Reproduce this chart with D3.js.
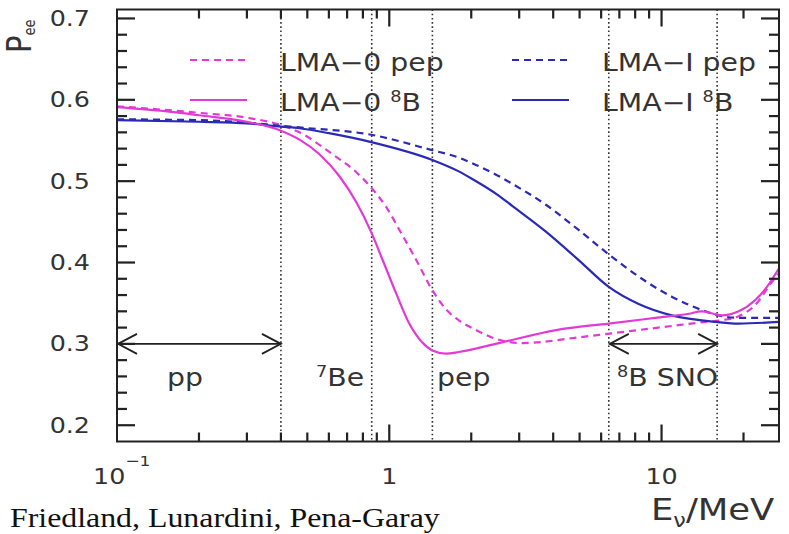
<!DOCTYPE html>
<html>
<head>
<meta charset="utf-8">
<script src="https://cdn.jsdelivr.net/npm/d3@7"></script>
<style>
  body { margin: 0; background: #fff; }
  svg { display: block; }
  .sans { font-family: "DejaVu Sans", sans-serif; fill: #333; }
  .serif { font-family: "Liberation Serif", "Times New Roman", serif; fill: #111; }
</style>
</head>
<body>
<div id="chart"></div>
<script>
// -> curves: [E in MeV, Pee]
var lma0B8 = [[0.1,0.591],[0.15,0.586],[0.2,0.581],[0.3,0.573],[0.4,0.562],[0.468,0.551],[0.554,0.533],
  [0.656,0.506],[0.757,0.474],[0.859,0.437],[0.943,0.404],[1.06,0.362],[1.18,0.326],[1.32,0.302],
  [1.44,0.292],[1.62,0.288],[1.8,0.290],[2.53,0.301],[4.1,0.317],[6.4,0.325],[9.5,0.332],[12.6,0.337],
  [14,0.340],[15.5,0.337],[16.6,0.335],[19.2,0.340],[22.1,0.354],[24,0.367],[27,0.393]];
var lma0pep = [[0.1,0.592],[0.2,0.584],[0.3,0.578],[0.4,0.569],[0.468,0.560],[0.619,0.533],[0.757,0.511],
  [0.859,0.492],[0.975,0.468],[1.09,0.440],[1.256,0.403],[1.44,0.366],[1.62,0.342],[1.8,0.329],[2.08,0.317],
  [2.53,0.305],[3.07,0.301],[4.96,0.308],[6.56,0.313],[8.24,0.317],[10.9,0.322],[14.5,0.327],[16.6,0.329],
  [19.2,0.334],[22.1,0.348],[25.3,0.375],[27,0.387]];
var lma1B8 = [[0.1,0.575],[0.2,0.573],[0.3,0.571],[0.4,0.567],[0.468,0.565],[0.6,0.559],[0.859,0.548],
  [1.44,0.526],[1.8,0.512],[2.01,0.503],[2.53,0.482],[2.82,0.470],[3.76,0.438],[4.96,0.403],[6.4,0.370],
  [8.24,0.349],[10.9,0.335],[15.9,0.327],[19.2,0.325],[27,0.327]];
var lma1pep = [[0.1,0.576],[0.2,0.575],[0.3,0.572],[0.4,0.568],[0.468,0.566],[0.859,0.557],[1.44,0.538],
  [1.8,0.529],[2.08,0.520],[2.53,0.506],[2.82,0.497],[3.76,0.471],[4.96,0.440],[6.4,0.410],[8.74,0.377],
  [10.9,0.358],[14.5,0.340],[16.2,0.335],[19.2,0.332],[27,0.332]];

// -> thresholds (dotted lines) and the two energy windows
var thresholds = [0.4, 0.862, 1.44, 6.4, 16];
var windows = [[0.1, 0.4], [6.4, 16]];
var arrowLevel = 0.3;

// -> ticks
var yMajor = [0.2, 0.3, 0.4, 0.5, 0.6, 0.7];
var yMinor = [0.22,0.24,0.26,0.28,0.32,0.34,0.36,0.38,0.42,0.44,0.46,0.48,0.52,0.54,0.56,0.58,0.62,0.64,0.66,0.68];
var xMajor = [1, 10];
var xMinor = [0.2,0.3,0.4,0.5,0.6,0.7,0.8,0.9,2,3,4,5,6,7,8,9,20];

var magenta = "#e23ad6", blue = "#2a2ab6";
var sx = 1.18; // the picture is stretched sideways, so is its text

var width = 789, height = 534,
    margin = {top: 9.5, right: 10, bottom: 92.5, left: 117};

var x = d3.scaleLog().domain([0.1, 27]).range([margin.left, width - margin.right]),
    y = d3.scaleLinear().domain([0.18, 0.711]).range([height - margin.bottom, margin.top]);

var svg = d3.select("#chart").append("svg")
    .attr("width", width)
    .attr("height", height);

svg.append("defs").append("marker")
    .attr("id", "head")
    .attr("markerUnits", "userSpaceOnUse")
    .attr("viewBox", "-22 -13 24 26")
    .attr("markerWidth", 24).attr("markerHeight", 26)
    .attr("refX", 0).attr("refY", 0)
    .attr("orient", "auto-start-reverse")
    .append("path")
    .attr("d", "M-19,-10L0,0L-19,10")
    .attr("fill", "none").attr("stroke", "#222").attr("stroke-width", 1.8);

// -> dotted thresholds
svg.selectAll(".thr").data(thresholds).enter().append("line")
    .attr("class", "thr")
    .attr("x1", function(d) { return x(d); }).attr("x2", function(d) { return x(d); })
    .attr("y1", y.range()[1]).attr("y2", y.range()[0])
    .attr("stroke", "#333").attr("stroke-width", 1.6)
    .attr("stroke-dasharray", "1.6,2.6");

// -> arrows
svg.selectAll(".win").data(windows).enter().append("line")
    .attr("class", "win")
    .attr("x1", function(d) { return x(d[0]) + 1; }).attr("x2", function(d) { return x(d[1]); })
    .attr("y1", y(arrowLevel)).attr("y2", y(arrowLevel))
    .attr("stroke", "#222").attr("stroke-width", 1.8)
    .attr("marker-start", "url(#head)").attr("marker-end", "url(#head)");

// -> curves
var line = d3.line()
    .x(function(d) { return x(d[0]); })
    .y(function(d) { return y(d[1]); })
    .curve(d3.curveMonotoneX);

var series = [
  {data: lma0pep, color: magenta, dash: "7,5"},
  {data: lma1pep, color: blue, dash: "7,5"},
  {data: lma1B8, color: blue, dash: null},
  {data: lma0B8, color: magenta, dash: null}
];
series.forEach(function(s) {
  svg.append("path")
      .datum(s.data)
      .attr("d", line)
      .attr("fill", "none")
      .attr("stroke", s.color)
      .attr("stroke-width", 2.2)
      .attr("stroke-dasharray", s.dash);
});

// -> frame
var pLeft = x.range()[0], pRight = x.range()[1],
    pBottom = y.range()[0], pTop = y.range()[1];
svg.append("rect")
    .attr("x", pLeft).attr("y", pTop)
    .attr("width", pRight - pLeft).attr("height", pBottom - pTop)
    .attr("fill", "none").attr("stroke", "#222").attr("stroke-width", 2);

// -> ticks pointing inwards on all four sides
var xTickData = [], yTickData = [];
[[xMajor, 17], [xMinor, 9]].forEach(function(t) {
  t[0].forEach(function(v) {
    xTickData.push({v: v, len: t[1], top: false});
    xTickData.push({v: v, len: t[1], top: true});
  });
});
[[yMajor, 18], [yMinor, 10]].forEach(function(t) {
  t[0].forEach(function(v) {
    yTickData.push({v: v, len: t[1], right: false});
    yTickData.push({v: v, len: t[1], right: true});
  });
});
svg.selectAll(".xtick").data(xTickData).enter().append("line")
    .attr("class", "xtick")
    .attr("x1", function(d) { return x(d.v); })
    .attr("x2", function(d) { return x(d.v); })
    .attr("y1", function(d) { return d.top ? pTop : pBottom; })
    .attr("y2", function(d) { return d.top ? pTop + d.len : pBottom - d.len; })
    .attr("stroke", "#222").attr("stroke-width", 2.2);
svg.selectAll(".ytick").data(yTickData).enter().append("line")
    .attr("class", "ytick")
    .attr("y1", function(d) { return y(d.v); })
    .attr("y2", function(d) { return y(d.v); })
    .attr("x1", function(d) { return d.right ? pRight : pLeft; })
    .attr("x2", function(d) { return d.right ? pRight - d.len : pLeft + d.len; })
    .attr("stroke", "#222").attr("stroke-width", 2.2);

// -> text helper: parts = [[string, size, dy], ...]
function label(px, py, anchor, parts, cls, rot) {
  var t = svg.append("text")
      .attr("class", cls || "sans")
      .attr("text-anchor", anchor)
      .attr("transform", "translate(" + px + "," + py + ") scale(" + sx + ",1)" + (rot ? " rotate(" + rot + ")" : ""));
  parts.forEach(function(p) {
    t.append("tspan").attr("font-size", p[1]).attr("dy", p[2] || 0).text(p[0]);
  });
  return t;
}

// -> y tick labels
yMajor.forEach(function(v) {
  label(90, y(v) + 7.5, "end", [[d3.format(".1f")(v), 21.5]]);
});

// -> x tick labels
label(93, 484, "start", [["10", 21.5], ["\u22121", 14.5, -18]]);
label(x(1), 484, "middle", [["1", 21.5]]);
label(x(10), 484, "middle", [["10", 21.5]]);

// -> axis titles
label(31, 53, "start", [["P", 29], ["ee", 13, 3]], "sans", -90);
label(651, 520, "start", [["E", 30], ["\u03bd", 19, 7], ["/MeV", 30, -7]]);

// -> window labels
label(167, 386, "start", [["pp", 24]]);
label(316, 386, "start", [["7", 15, -9], ["Be", 24, 9]]);
label(437, 386, "start", [["pep", 24]]);
label(617, 386, "start", [["8", 15, -9], ["B SNO", 24, 9]]);

// -> legend
var legend = [
  {text: [["LMA\u22120 pep", 24]], color: magenta, dash: "7,5", lx: 190, tx: 280, ly: 60},
  {text: [["LMA\u22120 ", 24], ["8", 15, -9], ["B", 24, 9]], color: magenta, dash: null, lx: 190, tx: 280, ly: 100},
  {text: [["LMA\u2212I pep", 24]], color: blue, dash: "7,5", lx: 512, tx: 602, ly: 60},
  {text: [["LMA\u2212I ", 24], ["8", 15, -9], ["B", 24, 9]], color: blue, dash: null, lx: 512, tx: 602, ly: 100}
];
legend.forEach(function(l) {
  svg.append("line")
      .attr("x1", l.lx).attr("x2", l.lx + 57)
      .attr("y1", l.ly).attr("y2", l.ly)
      .attr("stroke", l.color).attr("stroke-width", 2.2)
      .attr("stroke-dasharray", l.dash);
  label(l.tx, l.ly + 11, "start", l.text);
});

// -> credit line
label(10, 527, "start", [["Friedland, Lunardini, Pena-Garay", 27]], "serif");
</script>
</body>
</html>
